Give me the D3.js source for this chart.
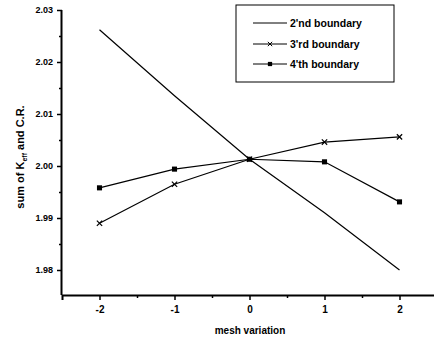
<!DOCTYPE html>
<html>
<head>
<meta charset="utf-8">
<script src="https://cdn.jsdelivr.net/npm/d3@7"></script>
<style>
  body { margin: 0; background: #fff; }
  svg { display: block; font-family: Arial, "Liberation Sans", sans-serif; }
</style>
</head>
<body>
<div id="chart"></div>
<script>
// mesh variation values on x
var meshVar = [-2, -1, 0, 1, 2];
// series values
var second = [2.0262, 2.0135, 2.0013, 1.9910, 1.9800];
var third = [1.9890, 1.9965, 2.0013, 2.0046, 2.0056];
var fourth = [1.9958, 1.9994, 2.0013, 2.0008, 1.9931];
var seriesNames = ["2'nd boundary", "3'rd boundary", "4'th boundary"];
var yTicks = [1.98, 1.99, 2.00, 2.01, 2.02, 2.03];
var xTicks = [-2, -1, 0, 1, 2];

var w = 434, h = 345;
var svg = d3.select("#chart").append("svg")
    .attr("width", w)
    .attr("height", h);

var xScale = d3.scaleLinear().domain([-2.5, 2.5]).range([62, 437]);
var yScale = d3.scaleLinear().domain([1.98, 2.00]).range([270, 166]);

// x axis
var xAxis = d3.axisBottom(xScale).tickValues(xTicks).tickSize(5).tickPadding(6)
    .tickFormat(function (d) { return String(d); });
var gx = svg.append("g").attr("transform", "translate(0,295)").call(xAxis);
svg.append("g").attr("transform", "translate(0,295)")
    .call(d3.axisBottom(xScale).tickValues([-1.5, -0.5, 0.5, 1.5, 2.5]).tickSize(3).tickFormat(""))
    .select(".domain").remove();

// y axis
var yAxis = d3.axisLeft(yScale).tickValues(yTicks).tickSize(5).tickPadding(4)
    .tickFormat(d3.format(".2f"));
var gy = svg.append("g").attr("transform", "translate(62,0)").call(yAxis);
gy.select(".domain").attr("d", "M-0.5," + yScale(2.03) + "V295");
svg.append("g").attr("transform", "translate(62,0)")
    .call(d3.axisLeft(yScale).tickValues([1.985, 1.995, 2.005, 2.015, 2.025]).tickSize(3).tickFormat(""))
    .select(".domain").remove();

svg.selectAll(".domain").attr("stroke-width", 2);
svg.selectAll(".tick line").attr("stroke-width", 1.5);
svg.selectAll(".tick text").attr("font-size", 9).attr("font-weight", "bold").attr("fill", "#000");
gx.selectAll(".tick text").attr("font-size", 10);

// axis labels
svg.append("text")
    .attr("x", 250).attr("y", 334)
    .attr("text-anchor", "middle")
    .attr("font-size", 10).attr("font-weight", "bold")
    .text("mesh variation");

var yl = svg.append("text")
    .attr("transform", "translate(24,157) rotate(-90)")
    .attr("text-anchor", "middle")
    .attr("font-size", 11).attr("font-weight", "bold");
yl.append("tspan").text("sum of K");
yl.append("tspan").attr("font-size", 7).attr("dy", 3).text("eff");
yl.append("tspan").attr("dy", -3).text(" and C.R.");

// lines
var line = d3.line()
    .x(function (d, i) { return xScale(meshVar[i]); })
    .y(function (d) { return yScale(d); });

[second, third, fourth].forEach(function (s) {
    svg.append("path")
        .datum(s)
        .attr("d", line)
        .attr("fill", "none")
        .attr("stroke", "#000")
        .attr("stroke-width", 1.2);
});

// x markers for 3rd
var crossSym = d3.symbol().type(d3.symbolX).size(20);
svg.selectAll(".crs")
    .data(third)
    .enter().append("path")
    .attr("class", "crs")
    .attr("transform", function (d, i) { return "translate(" + xScale(meshVar[i]) + "," + yScale(d) + ")"; })
    .attr("d", crossSym)
    .attr("stroke", "#000").attr("stroke-width", 1.2).attr("fill", "none");

// square markers for 4th
var sqSym = d3.symbol().type(d3.symbolSquare).size(26);
svg.selectAll(".sq")
    .data(fourth)
    .enter().append("path")
    .attr("class", "sq")
    .attr("transform", function (d, i) { return "translate(" + xScale(meshVar[i]) + "," + yScale(d) + ")"; })
    .attr("d", sqSym)
    .attr("fill", "#000");

// legend
var leg = svg.append("g");
leg.append("rect")
    .attr("x", 236).attr("y", 5).attr("width", 158).attr("height", 77)
    .attr("fill", "#fff").attr("stroke", "#000").attr("stroke-width", 1);
var legY = [23, 44, 64];
seriesNames.forEach(function (name, i) {
    leg.append("line")
        .attr("x1", 253).attr("x2", 287)
        .attr("y1", legY[i]).attr("y2", legY[i])
        .attr("stroke", "#000").attr("stroke-width", 1);
    if (i == 1) {
        leg.append("path")
            .attr("transform", "translate(270," + legY[i] + ")")
            .attr("d", d3.symbol().type(d3.symbolX).size(14))
            .attr("stroke", "#000").attr("fill", "none");
    }
    if (i == 2) {
        leg.append("path")
            .attr("transform", "translate(270," + legY[i] + ")")
            .attr("d", d3.symbol().type(d3.symbolSquare).size(18))
            .attr("fill", "#000");
    }
    leg.append("text")
        .attr("x", 290).attr("y", legY[i] + 4)
        .attr("font-size", 10.5).attr("font-weight", "bold")
        .text(name);
});
</script>
</body>
</html>
